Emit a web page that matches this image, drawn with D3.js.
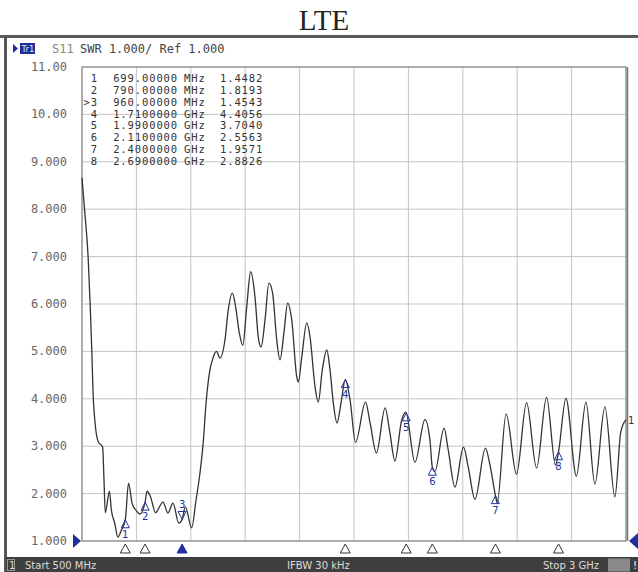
<!DOCTYPE html>
<html lang="en">
<head>
    <meta charset="UTF-8">
    <title>LTE SWR</title>
    <script src="https://cdn.jsdelivr.net/npm/d3@7"></script>
    <style>
        body { margin: 0; background: #fff; }
        svg { display: block; }
        .mono { font-family: "DejaVu Sans Mono", "Liberation Mono", monospace; }
    </style>
</head>
<body>
    <div id="chart"></div>
    <script>
        // trace S11 (SWR), frequency in MHz
        const traceFreq = [500, 512, 528, 538, 545, 551, 558, 574, 595, 601, 607, 626, 635, 650, 665, 681, 699,
            714, 730, 748, 766, 790, 799, 815, 838, 872, 895, 918, 945, 960, 975, 1004, 1024, 1042, 1057,
            1070, 1084, 1103, 1118, 1134, 1157, 1172, 1191, 1206, 1223, 1239, 1257, 1275, 1295, 1310, 1323,
            1341, 1359, 1376, 1395, 1410, 1428, 1445, 1464, 1487, 1494, 1510, 1533, 1548, 1571, 1586, 1604,
            1625, 1640, 1655, 1672, 1690, 1710, 1732, 1757, 1803, 1824, 1853, 1893, 1915, 1938, 1969, 1988,
            2030, 2076, 2099, 2110, 2122, 2164, 2183, 2214, 2253, 2275, 2306, 2354, 2375, 2400, 2408, 2449,
            2497, 2543, 2589, 2635, 2676, 2690, 2724, 2772, 2816, 2857, 2903, 2949, 2976, 3000]
        const traceSwr = [8.66, 7.98, 7.0, 5.94, 5.03, 4.1, 3.6, 3.1, 2.98, 2.3, 1.6, 2.05, 1.65, 1.38, 1.08, 1.23, 1.448,
            2.22, 1.8, 1.65, 1.57, 1.819, 2.05, 1.93, 1.6, 1.82, 1.59, 1.8, 1.38, 1.454, 1.72, 1.28, 1.86, 2.43, 3.07,
            3.9, 4.5, 4.88, 5.0, 4.86, 5.24, 5.87, 6.23, 5.94, 5.39, 5.13, 5.94, 6.68, 6.15, 5.3, 5.09,
            5.66, 6.44, 6.23, 5.24, 4.82, 5.39, 6.02, 5.66, 4.46, 4.35, 4.88, 5.6, 5.3, 4.25, 3.93, 4.6,
            5.03, 4.6, 3.91, 3.49, 3.9, 4.406, 3.97, 3.08, 3.93, 3.49, 2.86, 3.81, 3.28, 2.69, 3.55, 3.72,
            2.66, 3.56, 3.13, 2.556, 2.47, 3.38, 2.92, 2.14, 2.98, 2.56, 1.88, 2.96, 2.6, 1.957, 1.8, 3.68,
            2.41, 3.92, 2.54, 4.03, 2.6, 2.883, 4.01, 2.37, 3.93, 2.2, 3.83, 1.93, 3.3, 3.56]

        const markerIds = [1, 2, 3, 4, 5, 6, 7, 8]
        const markerFreq = [699, 790, 960, 1710, 1990, 2110, 2400, 2690]
        const markerSwr = [1.4482, 1.8193, 1.4543, 4.4056, 3.7040, 2.5563, 1.9571, 2.8826]
        const activeMarker = 3

        const yTicks = [1, 2, 3, 4, 5, 6, 7, 8, 9, 10, 11]
        const yTickLabels = ['1.000', '2.000', '3.000', '4.000', '5.000', '6.000', '7.000', '8.000', '9.000', '10.00', '11.00']
        const xGrid = [500, 750, 1000, 1250, 1500, 1750, 2000, 2250, 2500, 2750, 3000]

        let w = 638
        let h = 572
        let blue = '#1e2f9e'

        let svg = d3.select('#chart').append('svg')
            .attr('width', w)
            .attr('height', h)

        let xScale = d3.scaleLinear().domain([500, 3000]).range([82, 626])
        let yScale = d3.scaleLinear().domain([1, 11]).range([541, 67])

        // title above the screenshot
        svg.append('text')
           .attr('x', 324).attr('y', 30)
           .attr('text-anchor', 'middle')
           .attr('font-family', '"Liberation Serif", serif')
           .attr('font-size', 29)
           .attr('fill', '#222')
           .text('LTE')

        // screen frame
        svg.append('rect').attr('x', 0).attr('y', 35).attr('width', w).attr('height', 3).attr('fill', '#5a5a5a')
        svg.append('rect').attr('x', 4).attr('y', 36).attr('width', 3).attr('height', h - 36).attr('fill', '#555')

        // header line
        svg.append('path').attr('d', 'M13,44 L18,48.5 L13,53 Z').attr('fill', blue)
        svg.append('rect').attr('x', 20).attr('y', 43).attr('width', 15).attr('height', 11).attr('fill', blue)
        svg.append('text').attr('x', 21.5).attr('y', 52)
           .attr('font-family', 'DejaVu Sans').attr('font-size', 8.5).attr('fill', '#dfe4ff').text('Tr1')
        svg.append('text').attr('class', 'mono').attr('x', 52).attr('y', 53)
           .attr('font-size', 12).attr('fill', '#888').text('S11')
        svg.append('text').attr('class', 'mono').attr('x', 80).attr('y', 53)
           .attr('font-size', 12).attr('fill', '#444').text('SWR 1.000/ Ref 1.000')

        // grid
        let grid = svg.append('g')
        grid.selectAll('.vg').data(xGrid).enter().append('line')
            .attr('x1', d => xScale(d)).attr('x2', d => xScale(d))
            .attr('y1', yScale(11)).attr('y2', yScale(1))
            .attr('stroke', '#c4c4c4').attr('stroke-width', 1)
        grid.selectAll('.hg').data(yTicks).enter().append('line')
            .attr('x1', xScale(500)).attr('x2', xScale(3000))
            .attr('y1', d => yScale(d)).attr('y2', d => yScale(d))
            .attr('stroke', '#c4c4c4').attr('stroke-width', 1)
        svg.append('rect')
           .attr('x', xScale(500)).attr('y', yScale(11))
           .attr('width', xScale(3000) - xScale(500)).attr('height', yScale(1) - yScale(11))
           .attr('fill', 'none').attr('stroke', '#8a8a8a').attr('stroke-width', 1.2)
        svg.append('line')
           .attr('x1', xScale(3000) + 1.5).attr('x2', xScale(3000) + 1.5)
           .attr('y1', yScale(11)).attr('y2', yScale(1))
           .attr('stroke', '#777').attr('stroke-width', 1.5)

        // y tick labels
        svg.selectAll('.ytl').data(yTicks).enter().append('text')
           .attr('class', 'mono')
           .attr('x', 67).attr('y', d => yScale(d) + 4)
           .attr('text-anchor', 'end')
           .attr('font-size', 12).attr('fill', '#666')
           .text((d, i) => yTickLabels[i])

        // marker table (small font, spaced out to keep the instrument's column widths)
        let fmtFreq = f => f < 1000 ? f.toFixed(5) : (f / 1000).toFixed(7)
        let table = svg.append('g').attr('class', 'mono')
            .attr('font-size', 10.5).attr('letter-spacing', 0.88).attr('fill', '#333')
        markerIds.forEach((id, i) => {
            let ty = 82 + i * 11.85
            table.append('text').attr('x', 98).attr('y', ty).attr('text-anchor', 'end')
                 .text((id === activeMarker ? '>' : '') + id)
            table.append('text').attr('x', 178).attr('y', ty).attr('text-anchor', 'end')
                 .text(fmtFreq(markerFreq[i]))
            table.append('text').attr('x', 184).attr('y', ty)
                 .text(markerFreq[i] < 1000 ? 'MHz' : 'GHz')
            table.append('text').attr('x', 220).attr('y', ty)
                 .text(markerSwr[i].toFixed(4))
        })

        // trace
        let trace = traceFreq.map((f, i) => [f, traceSwr[i]])
        let line = d3.line()
            .x(d => xScale(d[0]))
            .y(d => yScale(d[1]))
            .curve(d3.curveMonotoneX)
        svg.append('path')
           .datum(trace)
           .attr('d', line)
           .attr('fill', 'none')
           .attr('stroke', '#333')
           .attr('stroke-width', 1.3)

        svg.append('text').attr('x', 628).attr('y', yScale(traceSwr[traceSwr.length - 1]) + 4)
           .attr('font-family', 'DejaVu Sans').attr('font-size', 10).attr('fill', '#333').text('1')

        // markers on the trace
        let mk = svg.append('g')
        markerIds.forEach((id, i) => {
            let mx = xScale(markerFreq[i])
            let my = yScale(markerSwr[i])
            if (id === activeMarker) {
                mk.append('path').attr('d', `M${mx},${my} l-4,-8 h8 Z`)
                  .attr('fill', 'none').attr('stroke', blue).attr('stroke-width', 1)
                mk.append('text').attr('x', mx).attr('y', my - 11).attr('text-anchor', 'middle')
                  .attr('font-family', 'DejaVu Sans').attr('font-size', 10).attr('fill', blue).text(id)
            } else {
                mk.append('path').attr('d', `M${mx},${my} l-4,8 h8 Z`)
                  .attr('fill', 'none').attr('stroke', blue).attr('stroke-width', 1)
                mk.append('text').attr('x', mx).attr('y', my + 18).attr('text-anchor', 'middle')
                  .attr('font-family', 'DejaVu Sans').attr('font-size', 10).attr('fill', blue).text(id)
            }
        })

        // marker positions along the bottom edge
        svg.selectAll('.bm').data(markerFreq).enter().append('path')
           .attr('d', d => `M${xScale(d)},544 l-5,9 h10 Z`)
           .attr('fill', (d, i) => markerIds[i] === activeMarker ? blue : '#fff')
           .attr('stroke', (d, i) => markerIds[i] === activeMarker ? blue : '#333')
           .attr('stroke-width', 1)

        // reference level arrows
        svg.append('path').attr('d', `M73,${yScale(1) - 7} L81,${yScale(1)} L73,${yScale(1) + 7} Z`).attr('fill', blue)
        svg.append('path').attr('d', `M638,${yScale(1) - 8} L629,${yScale(1)} L638,${yScale(1) + 8} Z`).attr('fill', blue)

        // status bar
        let bar = svg.append('g')
        bar.append('rect').attr('x', 6).attr('y', 557).attr('width', w - 6).attr('height', 15).attr('fill', '#3e3e3e')
        bar.append('rect').attr('x', 7.5).attr('y', 559.5).attr('width', 7).attr('height', 11)
           .attr('fill', 'none').attr('stroke', '#999')
        let st = bar.append('g').attr('font-family', 'DejaVu Sans').attr('font-size', 10).attr('fill', '#dcdcdc')
        st.append('text').attr('x', 9).attr('y', 569).text('1')
        st.append('text').attr('x', 25).attr('y', 569).text('Start 500 MHz')
        st.append('text').attr('x', 287).attr('y', 569).text('IFBW 30 kHz')
        st.append('text').attr('x', 543).attr('y', 569).text('Stop 3 GHz')
        bar.append('rect').attr('x', 608).attr('y', 558.5).attr('width', 22).attr('height', 13).attr('fill', '#8a8a8a')
        st.append('text').attr('x', 611).attr('y', 569).attr('fill', '#c8c8c8').text('Off')
        st.append('text').attr('x', 633).attr('y', 569).attr('fill', '#fff').text('!')
    </script>
</body>
</html>
